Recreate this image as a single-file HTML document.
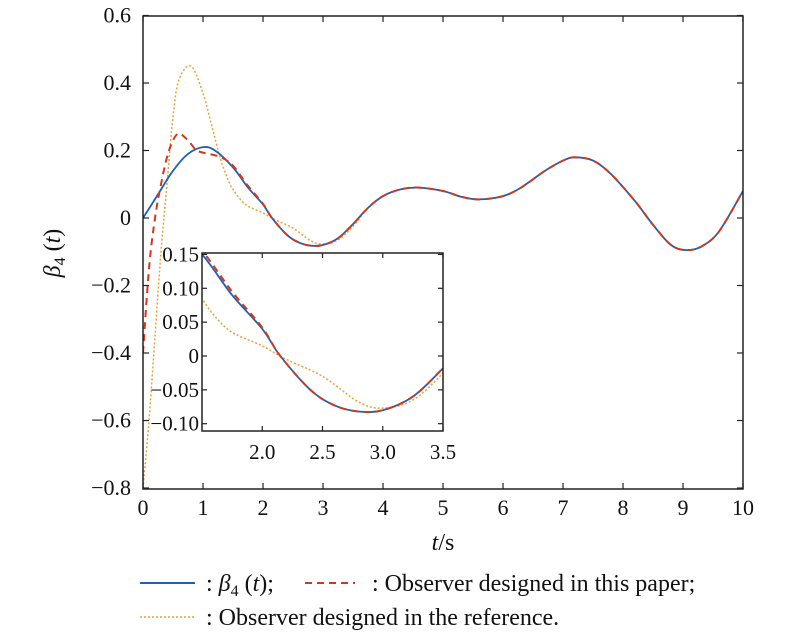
<!DOCTYPE html>
<html><head><meta charset="utf-8"><style>
html,body{margin:0;padding:0;background:#fff;width:800px;height:635px;overflow:hidden;}
svg{display:block;}
text{font-family:"Liberation Serif","Times New Roman",serif;fill:#111;}
</style></head><body>
<svg id="s" width="800" height="635" xmlns="http://www.w3.org/2000/svg" font-family="Liberation Serif, Times New Roman, serif">
<defs>
<clipPath id="cm"><rect x="143" y="16" width="600" height="473"/></clipPath>
<clipPath id="ci"><rect x="202" y="253" width="241" height="178"/></clipPath>
</defs>
<g id="main" clip-path="url(#cm)"></g>
<rect x="143" y="16" width="600" height="473" fill="none" stroke="#222" stroke-width="1.5"/>
<g id="ticks" stroke="#222" stroke-width="1.2"></g>
<g id="lbl" font-size="22"></g>
<rect x="202" y="253" width="241" height="178" fill="#fff"/>
<g id="ins" clip-path="url(#ci)"></g>
<rect x="202" y="253" width="241" height="178" fill="none" stroke="#222" stroke-width="1.5"/>
<g id="iticks" stroke="#222" stroke-width="1.2"></g>
<g id="ilbl" font-size="21"></g>
<text x="443" y="550" font-size="24" text-anchor="middle"><tspan font-style="italic">t</tspan>/s</text>
<text transform="translate(60,253) rotate(-90)" font-size="24" text-anchor="middle"><tspan font-style="italic">β</tspan><tspan font-size="16" dy="5">4</tspan><tspan dy="-5"> (</tspan><tspan font-style="italic">t</tspan>)</text>
<line x1="140" y1="583" x2="195" y2="583" stroke="#1f5fb5" stroke-width="2"/>
<text x="206" y="591" font-size="24">: <tspan font-style="italic">β</tspan><tspan font-size="16" dy="5">4</tspan><tspan dy="-5"> (</tspan><tspan font-style="italic">t</tspan>);</text>
<line x1="305" y1="583" x2="355" y2="583" stroke="#d0381c" stroke-width="2" stroke-dasharray="7,5"/>
<text x="372" y="591" font-size="24">: Observer designed in this paper;</text>
<line x1="140" y1="617" x2="195" y2="617" stroke="#e8a23a" stroke-width="1.5" stroke-dasharray="2,2"/>
<text x="206" y="625" font-size="24">: Observer designed in the reference.</text>
</svg>
<script>
var NS="http://www.w3.org/2000/svg";
function el(p,t,a,txt){var e=document.createElementNS(NS,t);for(var k in a)e.setAttribute(k,a[k]);if(txt!=null)e.textContent=txt;document.getElementById(p).appendChild(e);return e;}
var blue=[[0,0],[.25,.07],[.5,.14],[.75,.19],[1,.21],[1.2,.2],[1.5,.15],[1.75,.09],[2,.04],[2.15,0],[2.4,-.05],[2.6,-.073],[2.8,-.082],[3,-.08],[3.25,-.06],[3.5,-.018],[3.75,.03],[4,.065],[4.3,.085],[4.6,.09],[5,.08],[5.3,.063],[5.6,.055],[6,.065],[6.3,.09],[6.7,.14],[7,.17],[7.2,.18],[7.5,.17],[7.8,.13],[8.2,.05],[8.5,-.02],[8.8,-.08],[9.05,-.095],[9.3,-.085],[9.6,-.04],[10,.08]];
var red=[[0,-.4],[.1,-.15],[.2,0],[.3,.1],[.4,.18],[.5,.23],[.6,.25],[.75,.23],[.9,.2],[1.1,.19],[1.3,.18],[1.5,.155],[1.75,.095],[2,.042]].concat(blue.filter(function(p){return p[0]>=2.15;}));
var org=[[0,-.8],[.1,-.6],[.2,-.35],[.3,-.1],[.4,.1],[.5,.3],[.6,.41],[.8,.45],[1,.37],[1.15,.27],[1.3,.17],[1.45,.1],[1.5,.085],[1.6,.06],[1.75,.035],[2,.015],[2.2,-.005],[2.5,-.03],[2.8,-.068],[3,-.077],[3.25,-.065],[3.5,-.025]].concat(blue.filter(function(p){return p[0]>3.5;}));
function path(d,fx,fy){
var P=d.map(function(p){return [fx(p[0]),fy(p[1])];});
var s="M"+P[0][0].toFixed(1)+","+P[0][1].toFixed(1);
for(var i=0;i<P.length-1;i++){var p0=P[i-1]||P[i],p1=P[i],p2=P[i+1],p3=P[i+2]||p2;
var c1=[p1[0]+(p2[0]-p0[0])/6,p1[1]+(p2[1]-p0[1])/6],c2=[p2[0]-(p3[0]-p1[0])/6,p2[1]-(p3[1]-p1[1])/6];
s+=" C"+c1[0].toFixed(1)+","+c1[1].toFixed(1)+" "+c2[0].toFixed(1)+","+c2[1].toFixed(1)+" "+p2[0].toFixed(1)+","+p2[1].toFixed(1);}
return s;}
var mx=function(t){return 143+60*t;}, my=function(v){return 218-337.5*v;};
var ix=function(t){return 202+120.5*(t-1.5);}, iy=function(v){return 356-677*v;};
[["main",mx,my],["ins",ix,iy]].forEach(function(c){
el(c[0],"path",{d:path(org,c[1],c[2]),fill:"none",stroke:"#e8a23a","stroke-width":1.5,"stroke-dasharray":"2,2"});
el(c[0],"path",{d:path(blue,c[1],c[2]),fill:"none",stroke:"#1f5fb5","stroke-width":1.8});
el(c[0],"path",{d:path(red,c[1],c[2]),fill:"none",stroke:"#d0381c","stroke-width":2,"stroke-dasharray":"7,5"});
});
for(var t=0;t<=10;t++){var x=mx(t);el("ticks","line",{x1:x,y1:489,x2:x,y2:483});el("ticks","line",{x1:x,y1:16,x2:x,y2:22});
el("lbl","text",{x:x,y:515,"text-anchor":"middle"},String(t));}
var yl=["0.6","0.4","0.2","0","\u22120.2","\u22120.4","\u22120.6","\u22120.8"];
for(var i=0;i<8;i++){var v=0.6-0.2*i,y=my(v);el("ticks","line",{x1:143,y1:y,x2:149,y2:y});el("ticks","line",{x1:743,y1:y,x2:737,y2:y});
el("lbl","text",{x:131,y:y+7,"text-anchor":"end"},yl[i]);}
[2,2.5,3,3.5].forEach(function(t){var x=ix(t);el("iticks","line",{x1:x,y1:431,x2:x,y2:426});el("iticks","line",{x1:x,y1:253,x2:x,y2:258});
el("ilbl","text",{x:x,y:459,"text-anchor":"middle"},t.toFixed(1));});
var il=["0.15","0.10","0.05","0","\u22120.05","\u22120.10"];
for(var i=0;i<6;i++){var v=0.15-0.05*i,y=iy(v);el("iticks","line",{x1:202,y1:y,x2:207,y2:y});el("iticks","line",{x1:443,y1:y,x2:438,y2:y});
el("ilbl","text",{x:199,y:y+7,"text-anchor":"end"},il[i]);}
</script>
</body></html>
